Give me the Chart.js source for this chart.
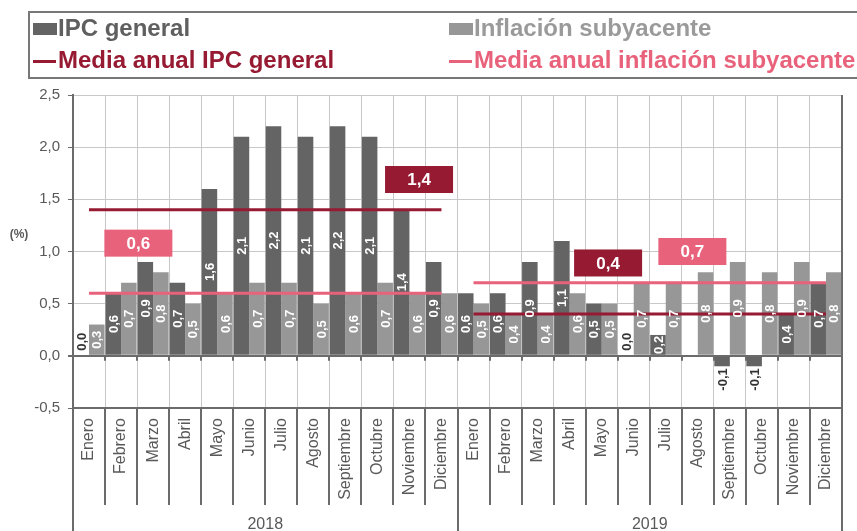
<!DOCTYPE html>
<html lang="es">
<head>
<meta charset="utf-8">
<script src="https://cdn.jsdelivr.net/npm/chart.js@4"></script>
<style>
    body { margin: 0; background: #fff; font-family: "Liberation Sans", Arial, sans-serif; }
    #wrap { position: relative; width: 857px; height: 531px; overflow: hidden; }
    #chart { position: absolute; left: 0; top: 0; }
    .legend { position: absolute; left: 28px; top: 11px; width: 840px; height: 64px; border: 2px solid #777; }
    .item { position: absolute; font-weight: bold; font-size: 24px; line-height: 24px; white-space: nowrap; }
    .sq { position: absolute; width: 24px; height: 12px; }
    .dash { position: absolute; width: 23px; height: 3px; }
</style>
</head>
<body>
<div id="wrap">
    <canvas id="chart" width="857" height="531"></canvas>
    <div class="legend">
        <span class="sq" style="left:3px; top:10px; background:#646464"></span>
        <span class="item" style="left:28px; top:3px; color:#5f5f5f">IPC general</span>
        <span class="sq" style="left:419px; top:10px; background:#979797"></span>
        <span class="item" style="left:444px; top:3px; color:#9a9a9a">Inflación subyacente</span>
        <span class="dash" style="left:3px; top:47px; background:#961a32"></span>
        <span class="item" style="left:28px; top:35px; color:#961a32">Media anual IPC general</span>
        <span class="dash" style="left:419px; top:47px; background:#e8627b"></span>
        <span class="item" style="left:444px; top:35px; color:#e8627b">Media anual inflación subyacente</span>
    </div>
</div>
<script>
// ============================================
// IPC GENERAL vs INFLACION SUBYACENTE 2018-2019
// ============================================

const months = ['Enero', 'Febrero', 'Marzo', 'Abril', 'Mayo', 'Junio', 'Julio', 'Agosto', 'Septiembre', 'Octubre', 'Noviembre', 'Diciembre'];
const years = ['2018', '2019'];

// Monthly rates (%), Jan 2018 .. Dec 2019
const ipcGeneral = [0.0, 0.6, 0.9, 0.7, 1.6, 2.1, 2.2, 2.1, 2.2, 2.1, 1.4, 0.9,
                    0.6, 0.6, 0.9, 1.1, 0.5, 0.0, 0.2, null, -0.1, -0.1, 0.4, 0.7];
const inflacionSubyacente = [0.3, 0.7, 0.8, 0.5, 0.6, 0.7, 0.7, 0.5, 0.6, 0.7, 0.6, 0.6,
                             0.5, 0.4, 0.4, 0.6, 0.5, 0.7, 0.7, 0.8, 0.9, 0.8, 0.9, 0.8];

// Annual averages, one per year
const mediaIPC = [1.4, 0.4];
const mediaSubyacente = [0.6, 0.7];

const yTicks = [-0.5, 0.0, 0.5, 1.0, 1.5, 2.0, 2.5];

const COLOR_IPC = '#646464';
const COLOR_SUB = '#979797';
const COLOR_MEDIA_IPC = '#961a32';
const COLOR_MEDIA_SUB = '#e8627b';
const AXIS = '#6b6b6b';
const GRID = '#c8c8c8';
const TEXT = '#595959';

const labels = years.flatMap(() => months);

const fmt = (v) => v.toFixed(1).replace('.', ',');

// one line per year, spanning only that year's months
function yearLine(value, yearIdx) {
    return labels.map((_, i) => (Math.floor(i / months.length) === yearIdx ? value : null));
}

function mediaDatasets(values, color) {
    return values.map((v, y) => ({
        type: 'line',
        label: 'media-' + y,
        data: yearLine(v, y),
        borderColor: color,
        borderWidth: 3,
        pointRadius: 0,
        spanGaps: false,
        order: 0,
    }));
}

// white values inside bars, dark ones for zero/negative
const barValues = {
    id: 'barValues',
    afterDatasetsDraw(chart) {
        const ctx = chart.ctx;
        ctx.save();
        ctx.font = 'bold 13px "Liberation Sans", Arial, sans-serif';
        ctx.textBaseline = 'middle';
        [0, 1].forEach((dsIdx) => {
            const meta = chart.getDatasetMeta(dsIdx);
            const data = chart.data.datasets[dsIdx].data;
            meta.data.forEach((el, i) => {
                const v = data[i];
                if (v === null || v === undefined) return;
                ctx.save();
                if (v > 0) {
                    ctx.translate(el.x, (el.y + el.base) / 2);
                    ctx.textAlign = 'center';
                    ctx.fillStyle = '#fff';
                } else if (v === 0) {
                    ctx.translate(el.x, el.base - 5);
                    ctx.textAlign = 'left';
                    ctx.fillStyle = '#333';
                } else {
                    ctx.translate(el.x, el.y + 2);
                    ctx.textAlign = 'right';
                    ctx.fillStyle = '#333';
                }
                ctx.rotate(-Math.PI / 2);
                ctx.fillText(fmt(v), 0, 1);
                ctx.restore();
            });
        });
        ctx.restore();
    },
};

// boxed value of each annual average
const mediaBoxes = {
    id: 'mediaBoxes',
    afterDatasetsDraw(chart, args, opts) {
        const { ctx, scales: { x, y } } = chart;
        ctx.save();
        ctx.font = 'bold 17px "Liberation Sans", Arial, sans-serif';
        ctx.textAlign = 'center';
        ctx.textBaseline = 'middle';
        opts.boxes.forEach((b) => {
            const cx = x.getPixelForValue(b.at);
            const cy = y.getPixelForValue(b.level);
            ctx.fillStyle = b.color;
            ctx.fillRect(cx - 34, cy - 13.5, 68, 27);
            ctx.fillStyle = '#fff';
            ctx.fillText(fmt(b.value), cx, cy + 1);
        });
        ctx.restore();
    },
};

// category separators under the axis, year labels and unit
const axisFrame = {
    id: 'axisFrame',
    afterDraw(chart) {
        const { ctx, chartArea: area, scales: { x, y } } = chart;
        const n = labels.length;
        const step = (area.right - area.left) / n;
        const zero = y.getPixelForValue(0);
        const h = chart.height;
        ctx.save();
        ctx.strokeStyle = AXIS;
        ctx.lineWidth = 2;
        ctx.beginPath();
        for (let i = 0; i <= n; i++) {
            const px = Math.round(area.left + i * step);
            const yearEdge = i % months.length === 0;
            ctx.moveTo(px, area.bottom);
            ctx.lineTo(px, yearEdge ? h : area.bottom + 97);
            ctx.moveTo(px, zero);
            ctx.lineTo(px, zero + 5);
        }
        ctx.moveTo(area.right, area.top);
        ctx.lineTo(area.right, area.bottom);
        ctx.stroke();

        ctx.fillStyle = TEXT;
        ctx.font = '16px "Liberation Sans", Arial, sans-serif';
        ctx.textAlign = 'center';
        ctx.textBaseline = 'middle';
        years.forEach((yr, k) => {
            const cx = area.left + (k + 0.5) * months.length * step;
            ctx.fillText(yr, cx, h - 6);
        });

        ctx.font = 'bold 12px "Liberation Sans", Arial, sans-serif';
        ctx.fillText('(%)', 19, y.getPixelForValue(1.16));
        ctx.restore();
    },
};

const chart = new Chart(document.getElementById('chart'), {
    type: 'bar',
    data: {
        labels: labels,
        datasets: [
            {
                label: 'IPC general',
                data: ipcGeneral,
                backgroundColor: COLOR_IPC,
                barPercentage: 1.0,
                categoryPercentage: 0.97,
                order: 1,
            },
            {
                label: 'Inflación subyacente',
                data: inflacionSubyacente,
                backgroundColor: COLOR_SUB,
                barPercentage: 1.0,
                categoryPercentage: 0.97,
                order: 1,
            },
            ...mediaDatasets(mediaIPC, COLOR_MEDIA_IPC),
            ...mediaDatasets(mediaSubyacente, COLOR_MEDIA_SUB),
        ],
    },
    options: {
        responsive: false,
        animation: false,
        layout: { padding: { top: 95, right: 15, left: 0, bottom: 0 } },
        plugins: {
            legend: { display: false },
            tooltip: { enabled: false },
            mediaBoxes: {
                boxes: [
                    { value: mediaIPC[0], color: COLOR_MEDIA_IPC, at: 10.3, level: 1.69 },
                    { value: mediaSubyacente[0], color: COLOR_MEDIA_SUB, at: 1.54, level: 1.08 },
                    { value: mediaIPC[1], color: COLOR_MEDIA_IPC, at: 16.2, level: 0.89 },
                    { value: mediaSubyacente[1], color: COLOR_MEDIA_SUB, at: 18.83, level: 1.0 },
                ],
            },
        },
        scales: {
            x: {
                grid: { offset: true, color: GRID, lineWidth: 1, drawTicks: false },
                border: { color: AXIS, width: 2 },
                ticks: {
                    autoSkip: false,
                    minRotation: 90,
                    maxRotation: 90,
                    padding: 10,
                    color: TEXT,
                    font: { size: 16, family: '"Liberation Sans", Arial, sans-serif' },
                },
                afterFit: (scale) => { scale.height = 123; },
            },
            y: {
                min: yTicks[0],
                max: yTicks[yTicks.length - 1],
                afterBuildTicks: (scale) => { scale.ticks = yTicks.map((v) => ({ value: v })); },
                grid: {
                    color: (c) => (c.tick && c.tick.value === 0 ? AXIS : GRID),
                    lineWidth: (c) => (c.tick && c.tick.value === 0 ? 2 : 1),
                    tickLength: 5,
                    tickColor: AXIS,
                },
                border: { color: AXIS, width: 2 },
                ticks: {
                    padding: 8,
                    color: TEXT,
                    font: { size: 15, family: '"Liberation Sans", Arial, sans-serif' },
                    callback: (v) => fmt(v),
                },
                afterFit: (scale) => { scale.width = 73; },
            },
        },
    },
    plugins: [barValues, mediaBoxes, axisFrame],
});
</script>
</body>
</html>
